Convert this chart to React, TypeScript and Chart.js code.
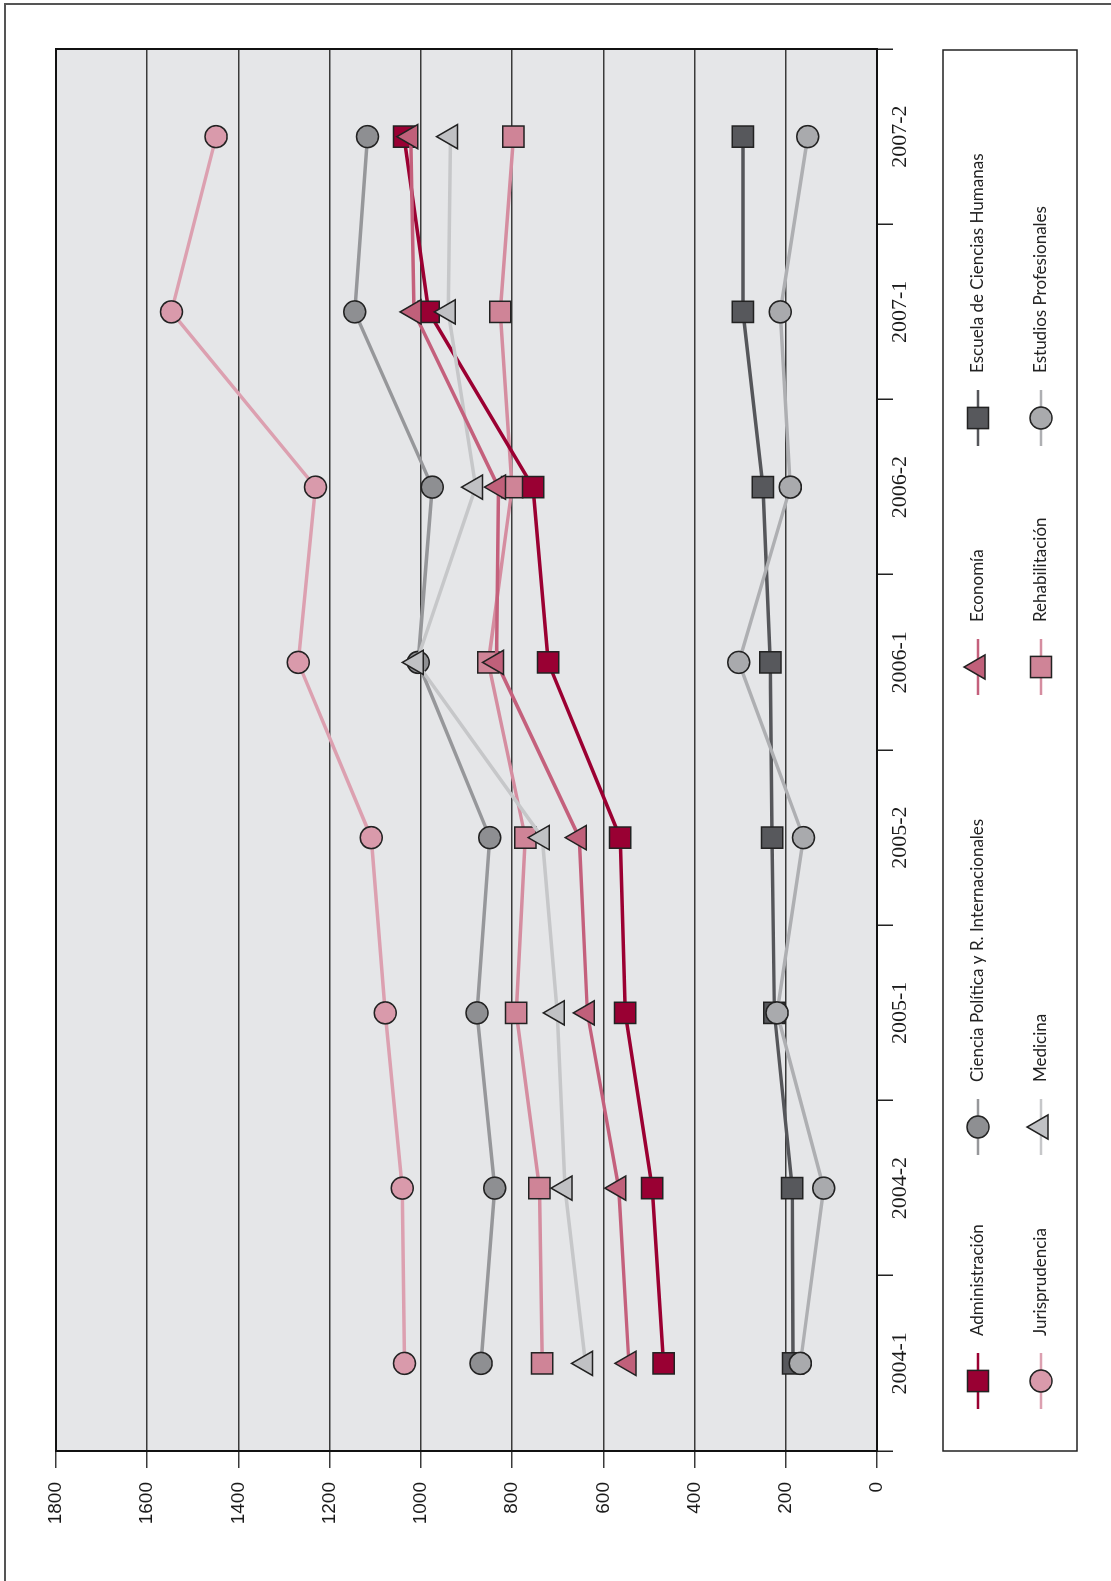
import React, { useEffect, useRef } from 'react';
import { Chart, registerables } from 'chart.js';
Chart.register(...registerables);

const W = 1581;
const H = 1111;

const categories = ['2004-1', '2004-2', '2005-1', '2005-2', '2006-1', '2006-2', '2007-1', '2007-2'];
const valueTicks = [0, 200, 400, 600, 800, 1000, 1200, 1400, 1600, 1800];

const administracion = [468, 493, 552, 563, 721, 754, 983, 1037];
const cienciaPolitica = [868, 838, 877, 849, 1006, 975, 1145, 1117];
const economia = [544, 566, 635, 653, 834, 830, 1015, 1022];
const escuelaCH = [184, 186, 225, 230, 234, 250, 294, 294];
const jurisprudencia = [1036, 1041, 1078, 1109, 1269, 1231, 1547, 1449];
const medicina = [639, 684, 701, 734, 1010, 880, 940, 935];
const rehabilitacion = [734, 740, 791, 771, 852, 800, 826, 797];
const estudiosProf = [168, 117, 219, 161, 303, 190, 212, 152];

type S = { label: string; data: number[]; line: string; fill: string; shape: 'rect' | 'circle' | 'triangle'; order: number };

const series: S[] = [
  { label: 'Administración', data: administracion, line: '#9b0032', fill: '#990033', shape: 'rect', order: 2 },
  { label: 'Ciencia Política y R. Internacionales', data: cienciaPolitica, line: '#96979a', fill: '#8e8f92', shape: 'circle', order: 4 },
  { label: 'Economía', data: economia, line: '#c4607c', fill: '#c0607a', shape: 'triangle', order: 0 },
  { label: 'Escuela de Ciencias Humanas', data: escuelaCH, line: '#55565a', fill: '#57585c', shape: 'rect', order: 7 },
  { label: 'Jurisprudencia', data: jurisprudencia, line: '#dca0b0', fill: '#d99aab', shape: 'circle', order: 5 },
  { label: 'Medicina', data: medicina, line: '#c6c7c9', fill: '#c0c1c4', shape: 'triangle', order: 1 },
  { label: 'Rehabilitación', data: rehabilitacion, line: '#d58da0', fill: '#cf8497', shape: 'rect', order: 3 },
  { label: 'Estudios Profesionales', data: estudiosProf, line: '#aeafb2', fill: '#a9aaad', shape: 'circle', order: 6 },
];

const radiusFor = (s: string) => (s === 'rect' ? 15 : s === 'triangle' ? 14 : 11);

function drawMarker(ctx: CanvasRenderingContext2D, shape: string, x: number, y: number, fill: string) {
  ctx.save();
  ctx.fillStyle = fill;
  ctx.strokeStyle = '#222';
  ctx.lineWidth = 1.5;
  ctx.beginPath();
  const r = radiusFor(shape);
  if (shape === 'rect') {
    const s = Math.SQRT1_2 * r;
    ctx.rect(x - s, y - s, 2 * s, 2 * s);
  } else if (shape === 'circle') {
    ctx.arc(x, y, r, 0, Math.PI * 2);
  } else {
    let a = 0;
    ctx.moveTo(x + Math.sin(a) * r, y - Math.cos(a) * r);
    a += (2 * Math.PI) / 3;
    ctx.lineTo(x + Math.sin(a) * r, y - Math.cos(a) * r);
    a += (2 * Math.PI) / 3;
    ctx.lineTo(x + Math.sin(a) * r, y - Math.cos(a) * r);
    ctx.closePath();
  }
  ctx.fill();
  ctx.stroke();
  ctx.restore();
}

const legendCols = [200, 454, 914, 1163];
const legendRows = [978, 1041];

const decor = {
  id: 'decor',
  beforeDraw(chart: any) {
    const { ctx, chartArea: a } = chart;
    ctx.save();
    ctx.fillStyle = '#ffffff';
    ctx.fillRect(0, 0, W, H);
    ctx.fillStyle = '#e5e6e8';
    ctx.fillRect(a.left, a.top, a.right - a.left, a.bottom - a.top);
    ctx.restore();
  },
  beforeDatasetsDraw(chart: any) {
    const { ctx, chartArea: a } = chart;
    ctx.save();
    ctx.strokeStyle = '#111';
    ctx.lineWidth = 2;
    ctx.strokeRect(a.left, a.top, a.right - a.left, a.bottom - a.top);
    ctx.restore();
  },
  afterDraw(chart: any) {
    const { ctx } = chart;
    ctx.save();
    // outer frame (left + top of the page)
    ctx.strokeStyle = '#555';
    ctx.lineWidth = 2;
    ctx.beginPath();
    ctx.moveTo(0, 5);
    ctx.lineTo(1577, 5);
    ctx.lineTo(1577, H);
    ctx.stroke();
    // legend box
    ctx.fillStyle = '#fff';
    ctx.fillRect(130, 943, 1401, 134);
    ctx.strokeStyle = '#222';
    ctx.lineWidth = 1.5;
    ctx.strokeRect(130, 943, 1401, 134);
    series.forEach((s, i) => {
      const u = legendCols[i % 4];
      const v = legendRows[Math.floor(i / 4)];
      ctx.strokeStyle = s.line;
      ctx.lineWidth = 2.5;
      ctx.beginPath();
      ctx.moveTo(u - 28, v);
      ctx.lineTo(u + 28, v);
      ctx.stroke();
      drawMarker(ctx, s.shape, u, v, s.fill);
      ctx.fillStyle = '#222';
      ctx.font = '17px Lato';
      ctx.textAlign = 'left';
      ctx.textBaseline = 'middle';
      ctx.fillText(s.label, u + 45, v);
    });
    ctx.restore();
  },
};

export default function App() {
  const ref = useRef<HTMLCanvasElement>(null);
  useEffect(() => {
    const chart = new Chart(ref.current!, {
      type: 'line',
      data: {
        labels: categories,
        datasets: series.map((s) => ({
          label: s.label,
          data: s.data,
          borderColor: s.line,
          backgroundColor: s.fill,
          borderWidth: 3.5,
          pointStyle: s.shape,
          pointRadius: radiusFor(s.shape),
          pointBackgroundColor: s.fill,
          pointBorderColor: '#222',
          pointBorderWidth: 1.5,
          tension: 0,
          order: s.order,
          clip: false as any,
        })),
      },
      options: {
        responsive: false,
        devicePixelRatio: 1,
        animation: false,
        layout: { padding: { top: 56, right: 49, left: 0, bottom: 0 } },
        plugins: { legend: { display: false }, tooltip: { enabled: false } },
        scales: {
          x: {
            type: 'category',
            offset: true,
            afterFit: (s: any) => { s.height = 234; },
            grid: { offset: true, drawOnChartArea: false, drawTicks: true, tickLength: 16, color: '#222', lineWidth: 1.5 },
            border: { display: false },
            ticks: { color: '#1a1a1a', font: { family: "'Liberation Serif', 'Times New Roman', serif", size: 22 }, padding: -6, maxRotation: 0, autoSkip: false },
          },
          y: {
            min: 0,
            max: 1800,
            afterFit: (s: any) => { s.width = 130; },
            afterBuildTicks: (s: any) => { s.ticks = valueTicks.map((v) => ({ value: v })); },
            grid: { color: '#3a3a3a', lineWidth: 1.5, tickLength: 17, drawTicks: true },
            border: { display: false },
            ticks: {
              color: '#1a1a1a',
              font: { family: "'Liberation Sans', Arial, sans-serif", size: 19 },
              padding: 14,
              callback: (v: any) => String(v),
            },
          },
        },
      },
      plugins: [decor],
    });
    return () => chart.destroy();
  }, []);
  return (
    <div
      style={{
        position: 'fixed',
        left: 0,
        top: 0,
        width: W,
        height: H,
        transformOrigin: '0 0',
        transform: `translateY(${W}px) rotate(-90deg)`,
        background: '#fff',
      }}
    >
      <canvas ref={ref} width={W} height={H} style={{ width: W, height: H, display: 'block' }} />
    </div>
  );
}
